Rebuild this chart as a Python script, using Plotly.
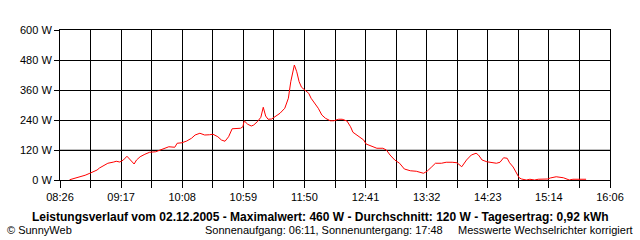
import plotly.graph_objects as go

# ---- data ----
times = ["08:34","08:37","08:41","08:44","08:47","08:51","08:54","08:57","08:59","09:02",
         "09:06","09:11","09:13","09:16","09:19","09:22","09:25","09:28","09:30","09:33",
         "09:37","09:41","09:46","09:50","09:54","09:57","10:02","10:04","10:08","10:12",
         "10:16","10:19","10:23","10:27","10:31","10:34","10:38","10:41","10:44","10:47",
         "10:50","10:54","10:57","10:59","11:00","11:03","11:06","11:08","11:11","11:14",
         "11:16","11:18","11:20","11:23","11:26","11:30","11:34","11:37","11:39","11:41",
         "11:42","11:44","11:46","11:48","11:50","11:54","11:56","11:59","12:02","12:05",
         "12:08","12:12","12:15","12:19","12:22","12:26","12:29","12:31","12:36","12:40",
         "12:42","12:47","12:51","12:56","12:59","13:02","13:06","13:10","13:14","13:19",
         "13:24","13:30","13:33","13:37","13:40","13:45","13:49","13:54","13:58","14:02",
         "14:06","14:10","14:14","14:16","14:19","14:23","14:27","14:31","14:34","14:37",
         "14:40","14:42","14:45","14:48","14:50","14:52","14:53","14:56","14:59","15:03",
         "15:06","15:14","15:16","15:21","15:27","15:30","15:32","15:35","15:46"]
watts = [1,5,9,12,19,27,32,40,48,56,
         67,72,75,72,80,95,80,64,80,93,
         103,111,113,121,128,133,131,147,149,156,
         167,180,187,180,181,183,173,160,155,173,
         205,207,207,213,237,223,216,220,233,251,
         291,256,243,244,253,267,287,327,393,440,
         460,433,393,371,363,347,327,307,287,260,
         247,237,237,243,243,236,213,191,173,160,
         144,136,127,127,120,100,80,67,44,37,
         35,27,35,53,67,67,71,71,69,53,
         80,100,107,100,80,73,71,67,71,89,
         87,69,52,24,9,4,3,0,3,0,
         3,4,8,13,9,4,0,3,3]

x_start, x_end = "08:26", "16:06"
tick_labels = ["08:26","09:17","10:08","10:59","11:50","12:41","13:32","14:23","15:14","16:06"]
y_ticks = [0, 120, 240, 360, 480, 600]
y_tick_labels = ["0 W", "120 W", "240 W", "360 W", "480 W", "600 W"]

title_text = ("Leistungsverlauf vom 02.12.2005 - Maximalwert: 460 W - "
              "Durchschnitt: 120 W - Tagesertrag: 0,92 kWh")
footer_left = "© SunnyWeb"
footer_mid = "Sonnenaufgang: 06:11, Sonnenuntergang: 17:48"
footer_right = "Messwerte Wechselrichter korrigiert"


def to_min(s):
    h, m = s.split(":")
    return int(h) * 60 + int(m)


xs = [to_min(t) for t in times]
x0, x1 = to_min(x_start), to_min(x_end)
n = len(tick_labels) - 1
tickvals = [x0 + i * (x1 - x0) / n for i in range(n + 1)]

FONT = "Liberation Sans, Arial, sans-serif"

fig = go.Figure()
fig.add_trace(go.Scatter(x=xs, y=watts, mode="lines",
                         line=dict(color="#ff0000", width=1),
                         hoverinfo="skip", showlegend=False))

fig.update_xaxes(
    range=[x0, x1], tickvals=tickvals, ticktext=tick_labels,
    showgrid=True, gridcolor="black", gridwidth=1,
    ticks="outside", ticklen=7, tickcolor="black", tickwidth=1,
    minor=dict(tick0=x0, dtick=(x1 - x0) / (2 * n), ticks="outside", ticklen=7,
               tickcolor="black", showgrid=True, gridcolor="black", gridwidth=1),
    showline=True, linecolor="black", linewidth=1, mirror=True,
    zeroline=False, layer="above traces",
    tickfont=dict(family=FONT, size=11, color="black"),
)
fig.update_yaxes(
    range=[0, 600], tickvals=y_ticks, ticktext=y_tick_labels,
    showgrid=True, gridcolor="black", gridwidth=1,
    ticks="outside", ticklen=5, tickcolor="black", tickwidth=1,
    showline=True, linecolor="black", linewidth=1, mirror=True,
    zeroline=False,
    tickfont=dict(family=FONT, size=11, color="black"),
)

# grey 120 W line
fig.add_shape(type="line", xref="paper", yref="y", x0=0, x1=1, y0=120, y1=120,
              line=dict(color="#808080", width=1), layer="below")

fig.add_annotation(text="<b>" + title_text + "</b>", xref="paper", yref="paper",
                   x=0.4736, y=-0.2467, xanchor="center", yanchor="middle",
                   showarrow=False, font=dict(family=FONT, size=12, color="black"))
fig.add_annotation(text=footer_left, xref="paper", yref="paper",
                   x=-0.1, y=-0.333, xanchor="left", yanchor="middle",
                   showarrow=False, font=dict(family=FONT, size=11, color="black"))
fig.add_annotation(text=footer_mid, xref="paper", yref="paper",
                   x=0.26, y=-0.333, xanchor="left", yanchor="middle",
                   showarrow=False, font=dict(family=FONT, size=11, color="black"))
fig.add_annotation(text=footer_right, xref="paper", yref="paper",
                   x=1.0455, y=-0.333, xanchor="right", yanchor="middle",
                   showarrow=False, font=dict(family=FONT, size=11, color="black"))

fig.update_layout(
    width=640, height=240,
    margin=dict(l=60, r=30, t=30, b=60, pad=0),
    paper_bgcolor="white", plot_bgcolor="white",
    font=dict(family=FONT, size=11, color="black"),
)

fig.write_html("out.html", config={"displayModeBar": False})
